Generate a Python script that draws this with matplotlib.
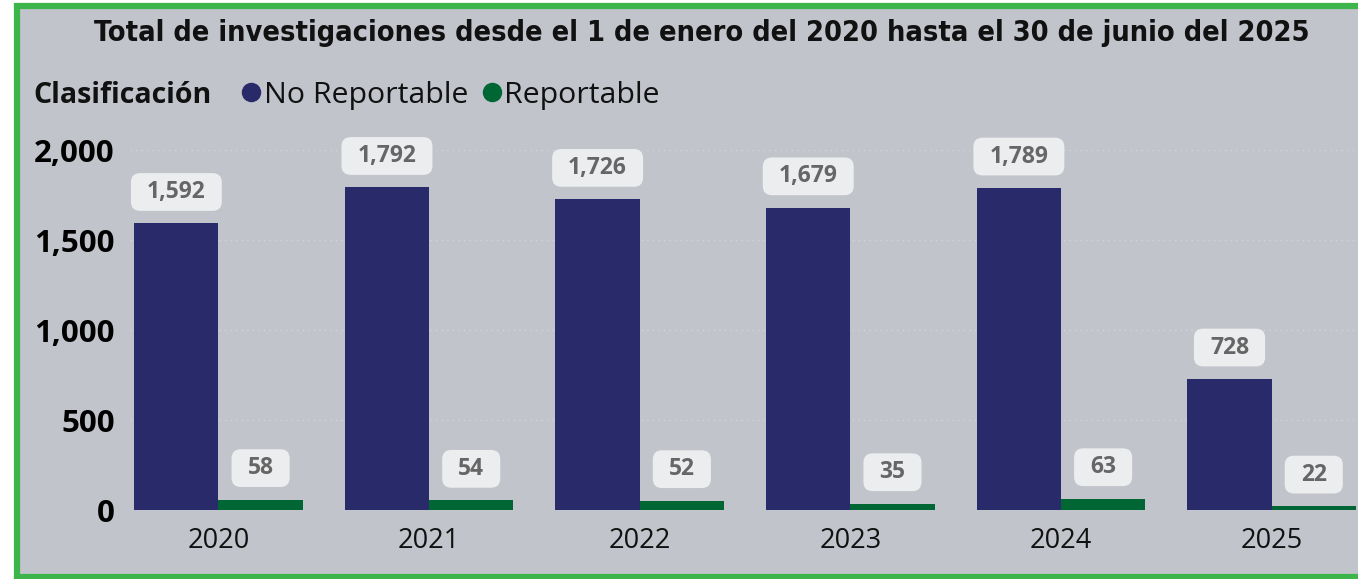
import matplotlib
matplotlib.use('Agg')
import matplotlib.pyplot as plt
from matplotlib.patches import Rectangle, BoxStyle
from matplotlib.lines import Line2D
import numpy as np

years = ['2020', '2021', '2022', '2023', '2024', '2025']
no_reportable = [1592, 1792, 1726, 1679, 1789, 728]
reportable = [58, 54, 52, 35, 63, 22]

navy = '#292A69'
green = '#006633'
bg = '#C1C4CB'
border = '#3DB54A'

plt.rcParams['font.family'] = ['Open Sans', 'DejaVu Sans']

W, H = 1358, 579
fig = plt.figure(figsize=(W / 100, H / 100), dpi=100)
fig.patch.set_facecolor('white')

# panel background with green frame
fig.patches.append(Rectangle((17 / W, 2.5 / H), 1.2, (573 - 2.5) / H, transform=fig.transFigure,
                             facecolor=bg, edgecolor=border, linewidth=4.5, zorder=-5))

ax = fig.add_axes([130 / W, (H - 510) / H, (W - 130) / W, 360 / H])
ax.set_zorder(2)
ax.set_facecolor('none')

x = np.arange(len(years))
bw = 0.4
ax.bar(x - bw / 2, no_reportable, bw, color=navy, zorder=3)
ax.bar(x + bw / 2, reportable, bw, color=green, zorder=3)

ax.set_xlim(-0.42, 5.41)
ax.set_ylim(0, 2000)
ax.set_yticks([0, 500, 1000, 1500, 2000])
ax.set_yticklabels(['0', '500', '1,000', '1,500', '2,000'], fontsize=22.5, fontweight='bold')
ax.set_xticks(x)
ax.set_xticklabels(years, fontsize=19.5, color='#111111')
ax.tick_params(axis='both', length=0)
ax.tick_params(axis='y', pad=11)
ax.tick_params(axis='x', pad=12)
for s in ax.spines.values():
    s.set_visible(False)
ax.yaxis.grid(True, linestyle=(0, (1, 3)), color='#D2D4D9', linewidth=1, zorder=0)


def wide_round(x0, y0, width, height, mutation_size):
    px = 0.7 * mutation_size
    py = 0.3 * mutation_size
    return BoxStyle.Round(pad=0, rounding_size=0.4)(x0 - px, y0 - py, width + 2 * px,
                                                    height + 2 * py, mutation_size)


def label(xpos, val):
    ax.annotate(f'{val:,}', (xpos, val), xytext=(0, 14), textcoords='offset points',
                ha='center', va='bottom', fontsize=16.5, fontweight='bold', color='#666666',
                bbox=dict(boxstyle=wide_round, facecolor='#ECEDEF', edgecolor='none'),
                zorder=5, annotation_clip=False)


for i in range(len(years)):
    label(x[i] - bw / 2, no_reportable[i])
    label(x[i] + bw / 2, reportable[i])

fig.text(702 / W, 1 - 33 / H, 'Total de investigaciones desde el 1 de enero del 2020 hasta el 30 de junio del 2025',
         ha='center', va='center', fontsize=20.7, fontweight='bold', color='#111111',
         family='DejaVu Sans', fontstretch='condensed')

fig.text(33 / W, 1 - 95 / H, 'Clasificación', ha='left', va='center', fontsize=20.5,
         fontweight='bold', color='#111111')
handles = [Line2D([], [], marker='o', linestyle='none', markersize=13, color=navy),
           Line2D([], [], marker='o', linestyle='none', markersize=13, color=green)]
fig.legend(handles, ['No Reportable', 'Reportable'], loc='center left',
           bbox_to_anchor=(244 / W, 1 - 95 / H), ncol=2, frameon=False, fontsize=21.8,
           handlelength=0.45, handletextpad=0.2, columnspacing=0.55, borderpad=0,
           borderaxespad=0, labelcolor='#111111')

fig.savefig('out.png', dpi=100)
